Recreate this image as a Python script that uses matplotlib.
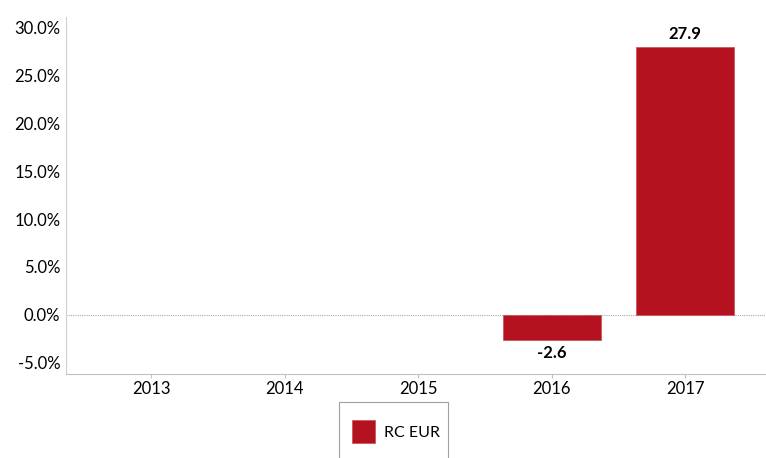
import matplotlib
matplotlib.use("Agg")
import matplotlib.pyplot as plt
import numpy as np
from matplotlib.ticker import FuncFormatter
from matplotlib.patches import Rectangle

years = ["2013", "2014", "2015", "2016", "2017"]
rc_eur = [np.nan, np.nan, np.nan, -2.6, 27.9]
series_name = "RC EUR"
yticks = [-5, 0, 5, 10, 15, 20, 25, 30]

plt.rcParams['font.family'] = ['Lato', 'DejaVu Sans']
W, H = 766, 458
fig = plt.figure(figsize=(W/100, H/100), dpi=100)
ax = fig.add_axes([66/W, 1-374/H, (765-66)/W, (374-17)/H])

x = np.arange(len(years))
color = '#B3121E'
ax.bar(x, rc_eur, width=0.735, color=color, edgecolor='#C9585E', linewidth=0.6,
       label=series_name, zorder=3)

for xi, v in zip(x, rc_eur):
    if np.isnan(v):
        continue
    if v >= 0:
        ax.text(xi, v + 0.5, f"{v:.1f}", ha='center', va='bottom', fontsize=12,
                fontweight='bold', color='black')
    else:
        ax.text(xi, v - 0.5, f"{v:.1f}", ha='center', va='top', fontsize=12,
                fontweight='bold', color='black')

ax.set_xlim(-0.64, 4.6)
ax.set_ylim(-6.15, 31.05)
ax.set_xticks(x)
ax.set_xticklabels(years)
ax.set_yticks(yticks)
ax.yaxis.set_major_formatter(FuncFormatter(lambda v, p: f"{v:.1f}%"))
ax.axhline(0, color='#AAAAAA', linestyle=(0, (1, 1)), linewidth=0.8, zorder=2)

for s in ['top', 'right']:
    ax.spines[s].set_visible(False)
ax.spines['left'].set_color('#D0D0D0')
ax.spines['bottom'].set_color('#C0C0C0')
ax.tick_params(axis='y', length=0, labelsize=12, pad=4, colors='black')
ax.tick_params(axis='x', length=3, color='#C0C0C0', labelsize=12, pad=2, labelcolor='black')

# legend frame (open at the bottom, cut by the figure edge)
fig.patches.append(Rectangle((339/W, -0.05), (448-339)/W, (1-402/H) + 0.05,
                             transform=fig.transFigure, fill=False,
                             edgecolor='#A0A0A0', linewidth=0.8))
leg = fig.legend(loc='center left', bbox_to_anchor=(352/W, 1-431.5/H), frameon=False,
                 fontsize=11.5, borderpad=0, borderaxespad=0,
                 handlelength=1.45, handleheight=1.75, handletextpad=0.55)

fig.savefig("out.png", dpi=100)
